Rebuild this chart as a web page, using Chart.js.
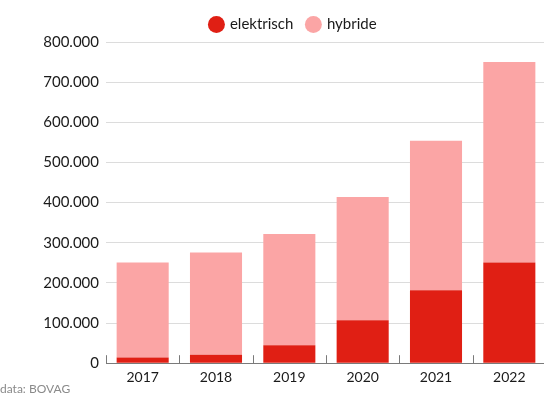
<!DOCTYPE html>
<html>
<head>
<meta charset="utf-8">
<script src="https://cdn.jsdelivr.net/npm/chart.js@4"></script>
<style>
  html, body { margin: 0; padding: 0; background: #fff; overflow: hidden; }
  #wrap { position: absolute; left: 0; top: 0; width: 552px; height: 394px; }
  #source {
    position: absolute; left: 0; top: 381px;
    font-family: Lato, sans-serif; font-size: 12px; color: #8a8a8a;
  }
</style>
</head>
<body>
<div id="wrap"><canvas id="evChart" width="552" height="394"></canvas></div>
<div id="source">data: BOVAG</div>
<script>
const years = ['2017', '2018', '2019', '2020', '2021', '2022'];
const elektrisch = [14000, 21000, 45000, 107000, 182000, 251000];
const hybride = [237000, 255000, 277000, 307000, 372000, 499000];
const yTicks = [0, 100000, 200000, 300000, 400000, 500000, 600000, 700000, 800000];

// dutch style thousands separator
function fmt(v) {
  return String(v).replace(/\B(?=(\d{3})+(?!\d))/g, '.');
}

// small upward tick marks between the bars, on the baseline
const catTicks = {
  id: 'catTicks',
  afterDatasetsDraw(chart) {
    const x = chart.scales.x;
    const y = chart.scales.y;
    const step = x.getPixelForValue(1) - x.getPixelForValue(0);
    const base = y.getPixelForValue(0);
    const ctx = chart.ctx;
    ctx.save();
    ctx.strokeStyle = '#7a7a7a';
    ctx.lineWidth = 1;
    for (let i = 0; i < years.length; i++) {
      const px = Math.round(x.getPixelForValue(i) - step / 2) + 0.5;
      ctx.beginPath();
      ctx.moveTo(px, base);
      ctx.lineTo(px, base - 8);
      ctx.stroke();
    }
    ctx.restore();
  }
};

new Chart(document.getElementById('evChart'), {
  type: 'bar',
  data: {
    labels: years,
    datasets: [
      {
        label: 'elektrisch',
        data: elektrisch,
        backgroundColor: '#e01f14',
        borderWidth: 0
      },
      {
        label: 'hybride',
        data: hybride,
        backgroundColor: '#fba5a5',
        borderWidth: 0
      }
    ]
  },
  options: {
    responsive: false,
    animation: false,
    layout: { padding: { left: 41, right: 6, top: 3, bottom: 2 } },
    datasets: {
      bar: { categoryPercentage: 1, barPercentage: 0.71 }
    },
    plugins: {
      tooltip: { enabled: false },
      legend: {
        position: 'top',
        align: 'center',
        labels: {
          usePointStyle: true,
          pointStyle: 'circle',
          boxWidth: 12,
          boxHeight: 12,
          padding: 14,
          color: '#1a1a1a',
          font: { family: 'Lato', size: 15 }
        }
      }
    },
    scales: {
      x: {
        stacked: true,
        grid: { display: false, drawTicks: false },
        border: { display: true, color: '#7a7a7a', width: 1 },
        ticks: {
          padding: 6,
          color: '#1a1a1a',
          font: { family: 'Lato', size: 14 }
        }
      },
      y: {
        stacked: true,
        min: 0,
        max: 800000,
        afterFit(scale) { scale.width = 65; },
        afterBuildTicks(scale) { scale.ticks = yTicks.map(v => ({ value: v })); },
        grid: { color: '#dcdcdc', drawTicks: false },
        border: { display: false },
        ticks: {
          padding: 7,
          color: '#1a1a1a',
          font: { family: 'Lato', size: 15 },
          callback: v => fmt(v)
        }
      }
    }
  },
  plugins: [catTicks]
});
</script>
</body>
</html>
